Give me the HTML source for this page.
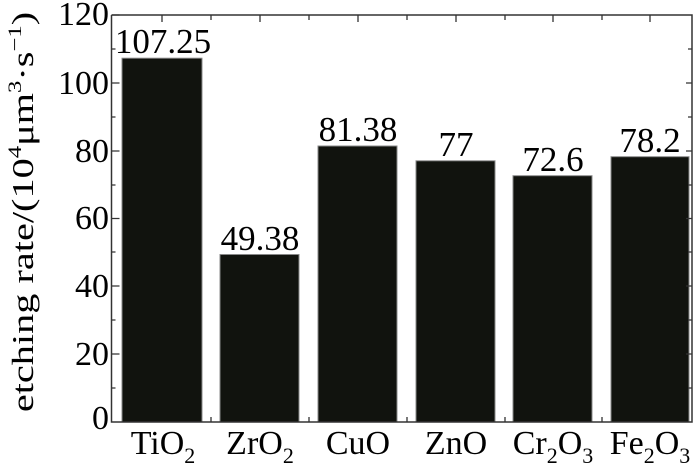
<!DOCTYPE html>
<html><head><style>body{margin:0;background:#fff}svg{display:block}</style></head><body>
<svg width="700" height="468" xmlns="http://www.w3.org/2000/svg" font-family="Liberation Serif, serif" fill="#000">
<g fill="#11130e" stroke="#888" stroke-width="1">
<rect x="122" y="58.2" width="80" height="363.8"/>
<rect x="220" y="254.5" width="79" height="167.5"/>
<rect x="318" y="146" width="79" height="276"/>
<rect x="416" y="160.8" width="79" height="261.2"/>
<rect x="513" y="175.7" width="79" height="246.3"/>
<rect x="611" y="156.7" width="78" height="265.3"/>
</g>
<g stroke="#333" stroke-width="1.5" fill="none">
<polyline points="111.5,15 692,15 692,422 111.5,422 111.5,15"/>
</g>
<g stroke="#333" stroke-width="1.3">
<path d="M111.5,15h8M111.5,83h8M111.5,151h8M111.5,218.5h8M111.5,286h8M111.5,354h8M111.5,49h4M111.5,117h4M111.5,185h4M111.5,252h4M111.5,320h4M111.5,388h4"/>
<path d="M692,83h-6M692,151h-6M692,218.5h-6M692,286h-6M692,354h-6M692,49h-4M692,117h-4M692,185h-4M692,252h-4M692,320h-4M692,388h-4"/>
<path d="M162,15v7M211,15v5M260,15v7M309,15v5M358,15v7M407,15v5M456,15v7M505,15v5M553,15v7M602,15v5M650,15v7"/>
<path d="M211,422v-5M309,422v-5M407,422v-5M505,422v-5M602,422v-5"/>
</g>
<g font-size="34" text-anchor="end">
<text x="109" y="25">120</text><text x="109" y="94">100</text><text x="109" y="162">80</text>
<text x="109" y="229">60</text><text x="109" y="297">40</text><text x="109" y="365">20</text><text x="109" y="429">0</text>
</g>
<g font-size="35" text-anchor="middle">
<text x="163" y="53">107.25</text><text x="260" y="250">49.38</text><text x="358" y="141">81.38</text>
<text x="456" y="156">77</text><text x="553" y="171">72.6</text><text x="650" y="152">78.2</text>
</g>
<g font-size="34" text-anchor="middle">
<text x="163" y="454">TiO<tspan font-size="22" dy="9">2</tspan></text>
<text x="260" y="454">ZrO<tspan font-size="22" dy="9">2</tspan></text>
<text x="358" y="454">CuO</text>
<text x="456" y="454">ZnO</text>
<text x="553" y="454">Cr<tspan font-size="22" dy="9">2</tspan><tspan dy="-9">O</tspan><tspan font-size="22" dy="9">3</tspan></text>
<text x="650" y="454">Fe<tspan font-size="22" dy="9">2</tspan><tspan dy="-9">O</tspan><tspan font-size="22" dy="9">3</tspan></text>
</g>
<g transform="translate(33,212) rotate(-90) scale(1.3,1)">
<text x="0" y="0" font-size="31" text-anchor="middle">etching rate/(10<tspan font-size="19" dy="-12">4</tspan><tspan dy="12">μm</tspan><tspan font-size="19" dy="-12">3</tspan><tspan dy="12">·s</tspan><tspan font-size="19" dy="-12">−1</tspan><tspan dy="12">)</tspan></text>
</g>
</svg>
</body></html>
